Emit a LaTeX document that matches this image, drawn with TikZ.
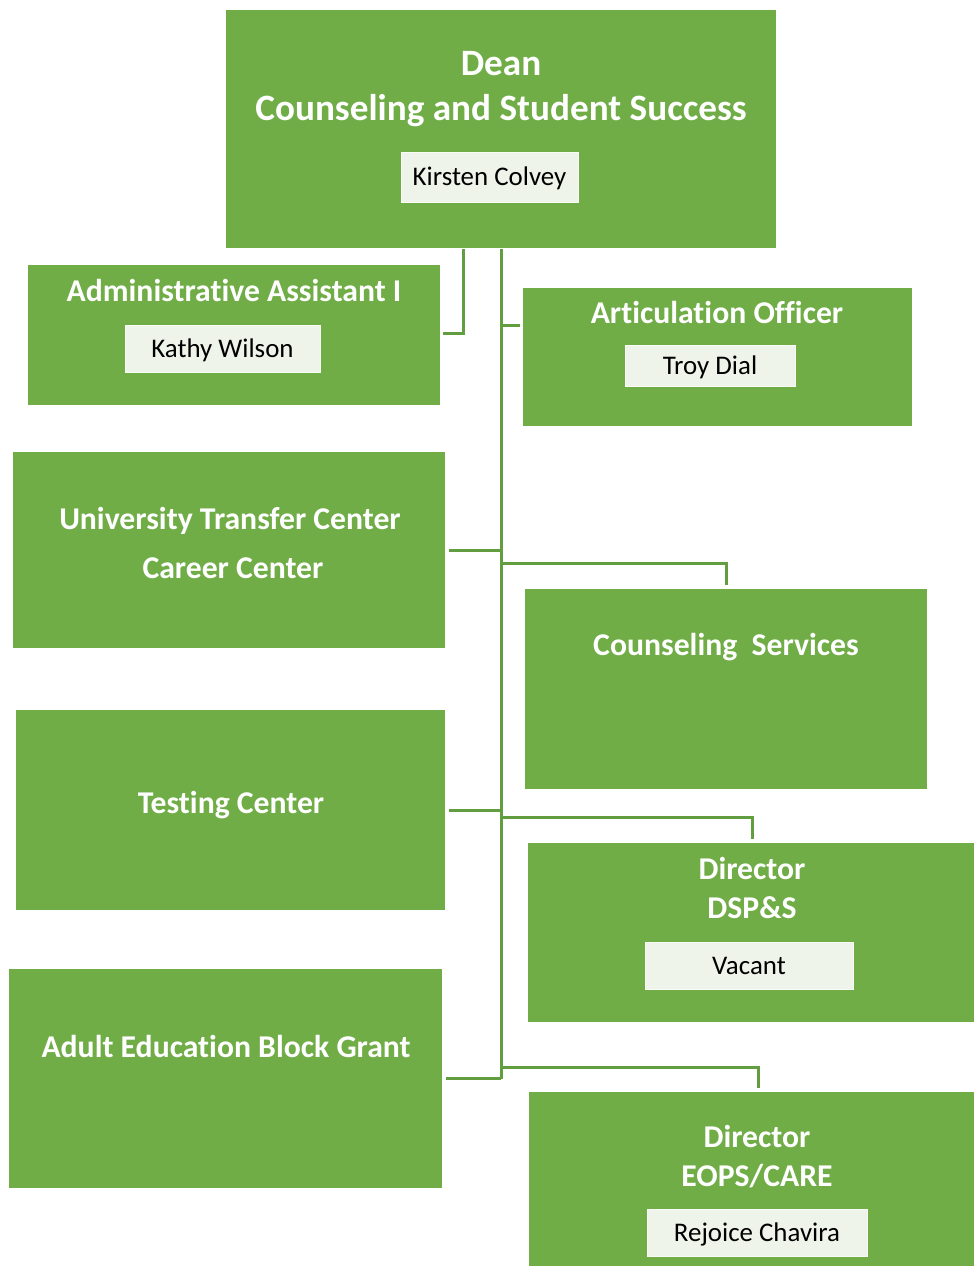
\documentclass[tikz,border=0pt]{standalone}
\usepackage{fontspec}
\setmainfont{Carlito}[Ligatures={NoCommon}]
\definecolor{boxgreen}{HTML}{70AD47}
\definecolor{namefill}{HTML}{EFF4EA}
\definecolor{linegreen}{HTML}{629E3F}
\begin{document}
\begin{tikzpicture}[x=1pt,y=-1pt,
  box/.style={rectangle, fill=boxgreen, draw=none, inner sep=0pt},
  bigtitle/.style={text=white, font=\bfseries\fontsize{37.2}{44}\selectfont, anchor=base, inner sep=0pt},
  title/.style={text=white, font=\bfseries\fontsize{31.7}{38}\selectfont, anchor=base, inner sep=0pt},
  namebox/.style={rectangle, fill=namefill, draw=white!60!namefill, line width=0.6pt, inner sep=0pt, text=black, text height=17.4pt, text depth=0pt, font=\fontsize{26.9}{32}\selectfont},
  conn/.style={draw=linegreen, line width=3pt}]
\useasboundingbox (0,0) rectangle (974,1266);

% Dean
\node[box, minimum width=550, minimum height=238] (dean) at (501,129) {};
\node[bigtitle] (deanT1) at (501,75) {Dean};
\node[bigtitle] (deanT2) at (501,120) {Counseling and Student Success};
\node[namebox, minimum width=177, minimum height=50] (deanN) at (489.5,177) {Kirsten Colvey};

% Administrative Assistant
\node[box, minimum width=412, minimum height=140] (admin) at (234,335) {};
\node[title] (adminT) at (234,301) {Administrative Assistant I};
\node[namebox, minimum width=195, minimum height=47] (adminN) at (222.5,348.5) {Kathy Wilson};

% Articulation Officer
\node[box, minimum width=389, minimum height=138] (artic) at (717.5,357) {};
\node[title] (articT) at (717,323) {Articulation Officer};
\node[namebox, minimum width=170, minimum height=41] (articN) at (710,365.5) {Troy Dial};

% University Transfer Center
\node[box, minimum width=432, minimum height=196] (utc) at (229,550) {};
\node[title] (utcT1) at (230,529) {University Transfer Center};
\node[title] (utcT2) at (233,578) {Career Center};

% Counseling Services
\node[box, minimum width=402, minimum height=200] (couns) at (726,689) {};
\node[title] (counsT) at (726,655) {Counseling\ \ Services};

% Testing Center
\node[box, minimum width=429, minimum height=200] (test) at (230.5,810) {};
\node[title] (testT) at (231,813) {Testing Center};

% Director DSP&S
\node[box, minimum width=446, minimum height=179] (dsps) at (751,932.5) {};
\node[title] (dspsT1) at (752,879) {Director};
\node[title] (dspsT2) at (752,918) {DSP\&S};
\node[namebox, minimum width=208, minimum height=47] (dspsN) at (749,965.5) {Vacant};

% Adult Education Block Grant
\node[box, minimum width=433, minimum height=219] (adult) at (225.5,1078.5) {};
\node[title] (adultT) at (226,1057) {Adult Education Block Grant};

% Director EOPS/CARE
\node[box, minimum width=445, minimum height=174] (eops) at (751.5,1179) {};
\node[title] (eopsT1) at (757,1147) {Director};
\node[title] (eopsT2) at (757,1186) {EOPS/CARE};
\node[namebox, minimum width=220, minimum height=47] (eopsN) at (757,1232.5) {Rejoice Chavira};

% Connectors
\coordinate (trunk) at ([yshift=-1]dean.south);
\coordinate (admJ) at (463,333);
\draw[conn] (trunk) -- (trunk |- adult.east);
\draw[conn] ([xshift=3]admin.east |- admJ) -- (admJ) -- (admJ |- trunk);
\draw[conn] (trunk |- 0,325) -- ([xshift=-3]artic.west |- 0,325);
\draw[conn] ([xshift=4]utc.east) -- (utc.east -| trunk);
\draw[conn] (trunk |- 0,563) -| ([yshift=4]couns.north);
\draw[conn] ([xshift=4]test.east) -- (test.east -| trunk);
\draw[conn] (trunk |- 0,817) -| ([xshift=1,yshift=4]dsps.north);
\draw[conn] ([xshift=4]adult.east) -- (adult.east -| trunk);
\draw[conn] (trunk |- 0,1067) -| ([xshift=6.5,yshift=4]eops.north);
\end{tikzpicture}
\end{document}
